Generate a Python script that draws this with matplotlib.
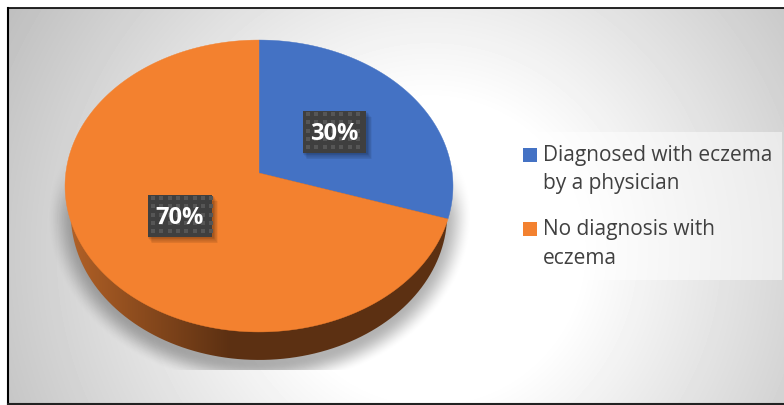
#!/usr/bin/env python3
"""Eczema diagnosis share as a tilted 3D-look pie on a radial gray backdrop."""

import numpy as np
import matplotlib
matplotlib.use("Agg")
import matplotlib.pyplot as plt
from matplotlib.patches import PathPatch, Polygon, Rectangle
from matplotlib.path import Path

labels = ["Diagnosed with eczema\nby a physician", "No diagnosis with\neczema"]
values = [30, 70]
colors = ["#4472C4", "#F3812F"]
value_text = ["30%", "70%"]

W, H = 784, 405
FONT = "Open Sans"
APEX = (259, 173)
RX, RY, TILT = 193.2, 144.8, 0.089
DEPTH = 28


def rim(frac):
    # perspective view of a point on the pie's circle, frac is clockwise from 12
    t = 2 * np.pi * np.asarray(frac)
    d = 1 + TILT * np.cos(t)
    return APEX[0] + RX * np.sin(t) / d, APEX[1] - RY * np.cos(t) / d


def wedge(start, stop):
    xs, ys = rim(np.linspace(start, stop, 200))
    return np.column_stack([np.r_[APEX[0], xs], np.r_[APEX[1], ys]])


def smooth(a):
    a = np.clip(a, 0, 1)
    return a * a * (3 - 2 * a)


fig = plt.figure(figsize=(W / 100, H / 100), dpi=100)
ax = fig.add_axes([0, 0, 1, 1])
ax.set_xlim(0, W)
ax.set_ylim(H, 0)
ax.axis("off")

# backdrop
yy, xx = np.mgrid[0:H, 0:W]
dist = np.hypot(xx - 430, yy - 250)
gray = 1 - 0.255 * np.clip((dist - 150) / 340, 0, None)
ax.imshow(gray, cmap="gray", vmin=0, vmax=1, extent=(0, W, H, 0),
          aspect="auto", zorder=0)

# soft shadow under the pie, cut off flat at the bottom
sd = np.hypot((xx - 259) / 213, (yy - 215) / 172)
alpha = 0.30 * smooth((1 - sd) / 0.14) * smooth((yy - 150) / 70) * (yy < 370)
shadow = np.zeros((H, W, 4))
shadow[..., 3] = alpha
ax.imshow(shadow, extent=(0, W, H, 0), aspect="auto", zorder=1)

# side wall of the pie, lit from the left; the top face hides its upper part
fx = np.linspace(0, 1, 400)
rx_, ry_ = rim(fx)
low_x = APEX[0] + (rx_ - APEX[0]) * 0.97
low_y = ry_ + DEPTH
side = np.column_stack([low_x, low_y])
grad = np.clip((np.arange(W) - 75) / 155, 0, 1)[None, :]
wall = np.zeros((1, W, 3))
for i, (a, b) in enumerate(zip((0xAE, 0x5F, 0x26), (0x5C, 0x30, 0x12))):
    wall[..., i] = (a + (b - a) * grad) / 255
im = ax.imshow(wall, extent=(0, W, H, 0), aspect="auto", zorder=2)
clip = PathPatch(Path(side), transform=ax.transData, fc="none", ec="none")
ax.add_patch(clip)
im.set_clip_path(clip)

# top face
edges = np.cumsum([0] + values) / sum(values)
for start, stop, c in zip(edges[:-1], edges[1:], colors):
    ax.add_patch(Polygon(wedge(start, stop), closed=True, fc=c, ec=c, lw=0.3,
                         zorder=3))

# value labels
boxes = [(303, 111, 63, 42), (148, 195, 64, 42)]
for (bx, by, bw, bh), txt in zip(boxes, value_text):
    for k in range(8, 0, -1):
        ax.add_patch(Rectangle((bx + k * 0.6 - 1, by + k * 0.8), bw + 2, bh,
                               fc="black", ec="none", alpha=0.045, zorder=4))
    ax.add_patch(Rectangle((bx, by), bw, bh, fc="#3F3F3F", ec="none", zorder=5))
    dx, dy = np.meshgrid(np.arange(bx + 5, bx + bw, 8.3),
                         np.arange(by + 3, by + bh, 8.3))
    ax.scatter(dx.ravel(), dy.ravel(), s=5, marker="s", c="#565656",
               linewidths=0, zorder=6)
    ax.text(bx + bw / 2, by + bh / 2 + 2, txt, color="white", fontsize=17,
            fontweight="bold", family=FONT, ha="center", va="center", zorder=7)

# legend
ax.add_patch(Rectangle((510, 132), 272, 148, fc="white", ec="none", alpha=0.5,
                       zorder=3))
for (y, label, c) in zip((148, 222), labels, colors):
    ax.add_patch(Rectangle((523, y), 14, 14, fc=c, ec="none", zorder=4))
    first, second = label.split("\n")
    ax.text(543, y + 8, first, color="#404040", fontsize=15, family=FONT,
            ha="left", va="center", zorder=4)
    ax.text(543, y + 36, second, color="#404040", fontsize=15, family=FONT,
            ha="left", va="center", zorder=4)

# frame
ax.add_patch(Rectangle((0, 0), W, 8, fc="white", ec="none", zorder=8))
ax.add_patch(Rectangle((0, 0), 8, H, fc="white", ec="none", zorder=8))
ax.add_patch(Rectangle((0, 404), W, 1, fc="white", ec="none", zorder=8))
ax.plot([8, 8], [8, 403.5], color="black", lw=1.5, zorder=9)
ax.plot([8, W], [8, 8], color="black", lw=1.2, zorder=9)
ax.plot([8, W], [403.5, 403.5], color="#222222", lw=1.5, zorder=9)

fig.savefig("out.png", dpi=100)
